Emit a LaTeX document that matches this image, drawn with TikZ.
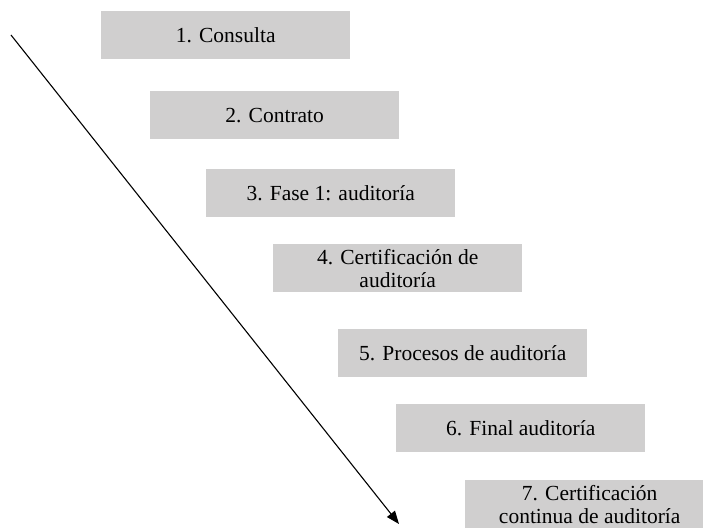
\documentclass[tikz,border=0pt]{standalone}
\usepackage{fontspec}
\setmainfont{Liberation Serif}
\usetikzlibrary{arrows.meta}
\definecolor{boxgray}{RGB}{208,207,207}
\begin{document}
\begin{tikzpicture}[x=1pt,y=-1pt,
  stepbox/.style={fill=boxgray,minimum width=249pt,minimum height=48pt,inner sep=0pt,
    align=center,font=\fontsize{21.5}{23}\selectfont,anchor=north west},
  flow/.style={line width=1.1pt,-{Triangle[length=13pt,width=10pt]}}]
\useasboundingbox (0,0) rectangle (703,529);
\clip (0,0) rectangle (703,529);
\fill[white] (0,0) rectangle (703,529);
\node[stepbox] (b1) at (101,11) {1. Consulta};
\node[stepbox] (b2) at (150,91) {2. Contrato};
\node[stepbox] (b3) at (206,169) {3. Fase 1: auditoría};
\node[stepbox] (b4) at (273,244) {4. Certificación de\\auditoría};
\node[stepbox] (b5) at (338,329) {5. Procesos de auditoría};
\node[stepbox] (b6) at (396,404) {6. Final auditoría};
\node[stepbox] (b7) at (465,480) {7. Certificación\\continua de auditoría};
\coordinate (s) at (11,35);
\coordinate (e) at (399,524);
\draw[flow] (s) -- (e);
\end{tikzpicture}
\end{document}
